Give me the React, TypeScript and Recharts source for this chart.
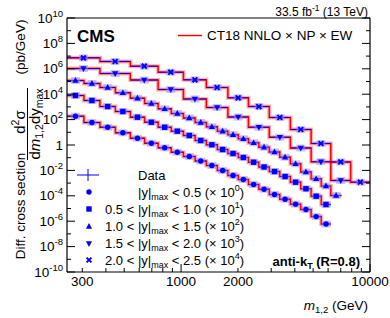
"use client";

import React from "react";
import { ComposedChart, Line, Scatter, XAxis, YAxis, ErrorBar, Legend } from "recharts";

const FONT = '"Liberation Sans", Arial, Helvetica, sans-serif';
const BLUE = "#0000ff";
const RED = "#ff0000";

// m_1,2 bin edges (GeV); the two forward |y|max bins use every second edge
const fineEdges = [249, 306, 372, 449, 539, 641, 756, 887, 1029, 1187, 1361, 1556, 1769, 2008, 2273, 2580, 2930, 3330, 3790, 4300, 4880, 5520, 6200, 7060];
const wideEdges = [249, 372, 539, 756, 1029, 1361, 1769, 2273, 2930, 3790, 4880, 6200, 7900, 10000];

// cross sections in pb/GeV, before the legend scale factor
const xsY00 = [185, 59, 25, 9.1, 3.4, 1.39, 0.6, 0.27, 0.124, 0.055, 0.0243, 0.0098, 0.004, 0.0019, 7.8e-4, 3.3e-4, 1.26e-4, 5.4e-5, 2.2e-5, 8.3e-6, 2.3e-6, 6.0e-7];
const xsY05 = [790, 319, 107, 43.5, 15.5, 6.2, 2.5, 1.22, 0.56, 0.226, 0.104, 0.044, 0.0214, 0.0104, 0.0044, 0.00185, 8.2e-4, 3.3e-4, 1.18e-4, 3.6e-5, 9.3e-6, 2.06e-6];
const xsY10 = [1200, 700, 337, 129, 48.4, 18.5, 7.08, 3.02, 1.34, 0.59, 0.27, 0.122, 0.064, 0.0308, 0.0149, 0.0067, 0.0028, 0.00109, 3.3e-4, 7.5e-5, 2.18e-5, 5.9e-6, 1.06e-6];
const xsY15 = [1060, 427, 131, 23.4, 4.19, 0.898, 0.16, 0.025, 0.0041, 5.8e-4, 4.8e-5, 1.6e-6];
const xsY20 = [730, 376, 160, 54, 13.6, 3.37, 0.52, 0.107, 0.0146, 0.00166, 1.31e-4, 4.6e-6, 1.18e-7];

const scaleExp = [0, 1, 2, 3, 4];
const yLow = ["", "0.5", "1.0", "1.5", "2.0"];
const yHigh = ["0.5", "1.0", "1.5", "2.0", "2.5"];

const xTicks = [300, 400, 500, 600, 700, 800, 900, 1000, 2000, 3000, 4000, 5000, 6000, 7000, 8000, 9000, 10000];
const xLabelTicks = [300, 1000, 2000, 10000];
const yTicks = [1e-10, 1e-9, 1e-8, 1e-7, 1e-6, 1e-5, 1e-4, 1e-3, 1e-2, 1e-1, 1, 10, 100, 1e3, 1e4, 1e5, 1e6, 1e7, 1e8, 1e9, 1e10];

type Kind = "circle" | "square" | "up" | "down" | "star";
const kinds: Kind[] = ["circle", "square", "up", "down", "star"];
const allXs = [xsY00, xsY05, xsY10, xsY15, xsY20];

const series = allXs.map((xs, s) => {
  const edges = s < 3 ? fineEdges : wideEdges;
  const f = Math.pow(10, scaleExp[s]);
  const hist = edges.slice(0, xs.length + 1).map((e, i) => ({ m: e, v: xs[Math.min(i, xs.length - 1)] * f }));
  const pts = xs.map((v, i) => {
    const c = Math.sqrt(edges[i] * edges[i + 1]);
    return { m: c, v: v * f, ex: [c - edges[i], edges[i + 1] - c] };
  });
  return { kind: kinds[s], hist, pts };
});

function Marker({ kind, cx, cy, box = true }: { kind: Kind; cx: number; cy: number; box?: boolean }) {
  let m: React.ReactNode = null;
  if (kind === "circle") m = <circle cx={cx} cy={cy} r={2.7} fill={BLUE} />;
  if (kind === "square") m = <rect x={cx - 2.7} y={cy - 2.7} width={5.4} height={5.4} fill={BLUE} />;
  if (kind === "up") m = <polygon points={`${cx},${cy - 3.4} ${cx - 3.1},${cy + 2.3} ${cx + 3.1},${cy + 2.3}`} fill={BLUE} />;
  if (kind === "down") m = <polygon points={`${cx},${cy + 3.4} ${cx - 3.1},${cy - 2.3} ${cx + 3.1},${cy - 2.3}`} fill={BLUE} />;
  if (kind === "star")
    m = (
      <g transform={`rotate(45 ${cx} ${cy})`} fill={BLUE}>
        <rect x={cx - 3.4} y={cy - 1} width={6.8} height={2} />
        <rect x={cx - 1} y={cy - 3.4} width={2} height={6.8} />
      </g>
    );
  return (
    <g>
      {box && <rect x={cx - 4.5} y={cy - 3.5} width={9} height={7} fill="#8c8cff" fillOpacity={0.5} />}
      {m}
    </g>
  );
}

const BottomTick = (props: any) => {
  const { x, y, payload } = props;
  const v = payload.value;
  const len = v === 1000 || v === 10000 ? 8 : 4;
  return (
    <g>
      <line x1={x} x2={x} y1={y} y2={y - len} stroke="#000" />
      {xLabelTicks.includes(v) && (
        <text x={x} y={y + 14} textAnchor="middle" fontSize={13.5} fontFamily={FONT} fill="#000">
          {v}
        </text>
      )}
    </g>
  );
};

const TopTick = (props: any) => {
  const { x, y, payload } = props;
  const v = payload.value;
  const len = v === 1000 || v === 10000 ? 8 : 4;
  return <line x1={x} x2={x} y1={y} y2={y + len} stroke="#000" />;
};

const LeftTick = (props: any) => {
  const { x, y, payload } = props;
  const e = Math.round(Math.log10(payload.value));
  const even = e % 2 === 0;
  return (
    <g>
      <line x1={x} x2={x + (even ? 8 : 4)} y1={y} y2={y} stroke="#000" />
      {even && (
        <text x={x - 4} y={y + 4.5} textAnchor="end" fontSize={13.5} fontFamily={FONT} fill="#000">
          {e === 0 ? (
            "1"
          ) : (
            <>
              10
              <tspan fontSize={9.5} dy={-6}>
                {e}
              </tspan>
            </>
          )}
        </text>
      )}
    </g>
  );
};

const RightTick = (props: any) => {
  const { x, y, payload } = props;
  const e = Math.round(Math.log10(payload.value));
  return <line x1={x} x2={x - (e % 2 === 0 ? 8 : 4)} y1={y} y2={y} stroke="#000" />;
};

const rowY = [192, 209, 226.5, 243.5, 260];

const LegendBox = () => (
  <svg width={390} height={318} style={{ fontFamily: FONT }}>
    <line x1={178} x2={202} y1={35.5} y2={35.5} stroke={RED} strokeWidth={1.5} />
    <text x={207} y={40} fontSize={13.5} fill="#000">
      CT18 NNLO × NP × EW
    </text>
    <line x1={77} x2={99} y1={175} y2={175} stroke={BLUE} />
    <line x1={88} x2={88} y1={169} y2={181} stroke={BLUE} />
    <text x={138} y={179.5} fontSize={13} fill="#000">
      Data
    </text>
    {kinds.map((k, i) => (
      <g key={k}>
        <Marker kind={k} cx={89} cy={rowY[i]} box={false} />
        <text x={i === 0 ? 138 : 105} y={rowY[i] + 4.5} fontSize={13} fill="#000">
          {i === 0 ? "|y|" : `${yLow[i]} < |y|`}
          <tspan fontSize={9} dy={3}>
            max
          </tspan>
          <tspan dy={-3}>{` < ${yHigh[i]} (× 10`}</tspan>
          <tspan fontSize={9} dy={-6}>
            {scaleExp[i]}
          </tspan>
          <tspan dy={6}>)</tspan>
        </text>
      </g>
    ))}
  </svg>
);

const axisLine = { stroke: "#000", strokeWidth: 1.2 };

export default function App() {
  return (
    <div style={{ position: "absolute", left: 0, top: 0, width: 390, height: 318, background: "#fff" }}>
      <ComposedChart width={390} height={318} margin={{ top: 17, right: 19, bottom: 45, left: 66 }}>
        <XAxis
          xAxisId="b"
          dataKey="m"
          type="number"
          scale="log"
          domain={[249, 10000]}
          allowDataOverflow
          ticks={xTicks}
          interval={0}
          height={1}
          tickSize={0}
          tickMargin={0}
          tickLine={false}
          tick={<BottomTick />}
          axisLine={axisLine}
        />
        <XAxis
          xAxisId="t"
          orientation="top"
          type="number"
          scale="log"
          domain={[249, 10000]}
          allowDataOverflow
          ticks={xTicks}
          interval={0}
          height={1}
          tickSize={0}
          tickMargin={0}
          tickLine={false}
          tick={<TopTick />}
          axisLine={axisLine}
        />
        <YAxis
          yAxisId="l"
          dataKey="v"
          type="number"
          scale="log"
          domain={[1e-10, 1e10]}
          allowDataOverflow
          ticks={yTicks}
          interval={0}
          width={1}
          tickSize={0}
          tickMargin={0}
          tickLine={false}
          tick={<LeftTick />}
          axisLine={axisLine}
        />
        <YAxis
          yAxisId="r"
          orientation="right"
          type="number"
          scale="log"
          domain={[1e-10, 1e10]}
          allowDataOverflow
          ticks={yTicks}
          interval={0}
          width={1}
          tickSize={0}
          tickMargin={0}
          tickLine={false}
          tick={<RightTick />}
          axisLine={axisLine}
        />

        {/* theory uncertainty band */}
        {series.map((s) => (
          <Line
            key={"band" + s.kind}
            xAxisId="b"
            yAxisId="l"
            data={s.hist}
            dataKey="v"
            type="stepAfter"
            stroke="#ff7070"
            strokeOpacity={0.55}
            strokeWidth={4}
            dot={false}
            activeDot={false}
            isAnimationActive={false}
          />
        ))}
        {/* theory */}
        {series.map((s) => (
          <Line
            key={"th" + s.kind}
            xAxisId="b"
            yAxisId="l"
            data={s.hist}
            dataKey="v"
            type="stepAfter"
            stroke={RED}
            strokeWidth={1.5}
            dot={false}
            activeDot={false}
            isAnimationActive={false}
          />
        ))}
        {/* data */}
        {series.map((s) => (
          <Scatter
            key={"d" + s.kind}
            xAxisId="b"
            yAxisId="l"
            data={s.pts}
            dataKey="v"
            isAnimationActive={false}
            shape={(p: any) => <Marker kind={s.kind} cx={p.cx} cy={p.cy} />}
          >
            <ErrorBar dataKey="ex" direction="x" width={0} stroke={BLUE} strokeWidth={1} />
          </Scatter>
        ))}

        <Legend
          layout="horizontal"
          verticalAlign="middle"
          align="center"
          wrapperStyle={{ left: 0, top: 0, width: 390, height: 318, pointerEvents: "none" }}
          content={() => <LegendBox />}
        />
      </ComposedChart>

      <svg
        width={390}
        height={318}
        style={{ position: "absolute", left: 0, top: 0, pointerEvents: "none", fontFamily: FONT }}
      >
        <text x={77} y={41.7} fontSize={17} fontWeight="bold" fill="#000">
          CMS
        </text>
        <text x={368} y={15.5} textAnchor="end" fontSize={12} fill="#000">
          33.5 fb
          <tspan fontSize={8.5} dy={-5}>
            -1
          </tspan>
          <tspan dy={5}> (13 TeV)</tspan>
        </text>
        <text x={360} y={266} textAnchor="end" fontSize={13} fontWeight="bold" fill="#000">
          anti-k
          <tspan fontSize={9} dy={3}>
            T
          </tspan>
          <tspan dy={-3}> (R=0.8)</tspan>
        </text>
        <text x={368} y={310} textAnchor="end" fontSize={13.5} fill="#000">
          <tspan fontStyle="italic">m</tspan>
          <tspan fontSize={9.5} dy={3}>
            1,2
          </tspan>
          <tspan dy={-3}> (GeV)</tspan>
        </text>
        <g transform="rotate(-90)" fontSize={13.5} fill="#000">
          <text x={-206} y={25} textAnchor="middle">
            Diff. cross section
          </text>
          <text x={-122} y={25} textAnchor="middle" fontSize={15}>
            d
            <tspan fontSize={10.5} dy={-6}>
              2
            </tspan>
            <tspan dy={6}>σ</tspan>
          </text>
          <line x1={-88} x2={-160} y1={27.5} y2={27.5} stroke="#000" />
          <text x={-124} y={39.5} textAnchor="middle" fontSize={15}>
            d<tspan fontStyle="italic">m</tspan>
            <tspan fontSize={10.5} dy={3}>
              1,2
            </tspan>
            <tspan dy={-3}>dy</tspan>
            <tspan fontSize={10.5} dy={3}>
              max
            </tspan>
          </text>
          <text x={-47} y={25} textAnchor="middle">
            (pb/GeV)
          </text>
        </g>
      </svg>
    </div>
  );
}
